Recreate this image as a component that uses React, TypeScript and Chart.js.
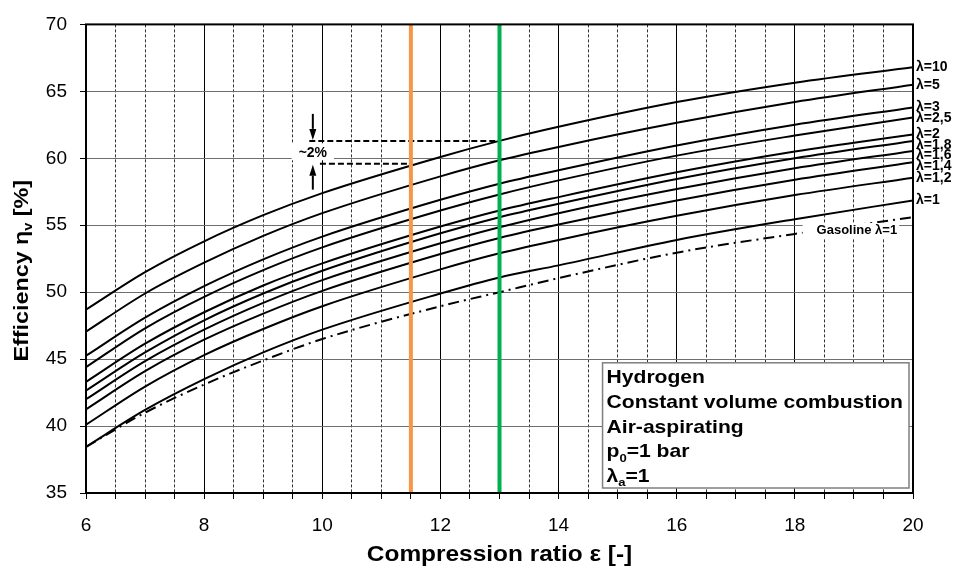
import React, { useEffect, useRef } from 'react';
import { Chart, registerables } from 'chart.js';

Chart.register(...registerables);

// ---------- data ----------
const epsilon = [6, 7, 8, 9, 10, 12, 13, 14, 16, 18, 20];

const lambda10 = [48.7, 51.5, 53.8, 55.75, 57.4, 60.1, 61.3, 62.35, 64.2, 65.65, 66.8];
const lambda5 = [47.05, 49.9, 52.2, 54.2, 55.9, 58.65, 59.85, 60.85, 62.65, 64.2, 65.5];
const lambda3 = [45.25, 48.1, 50.45, 52.45, 54.15, 56.9, 58.1, 59.1, 60.95, 62.5, 63.8];
const lambda2_5 = [44.4, 47.3, 49.65, 51.65, 53.35, 56.1, 57.3, 58.35, 60.2, 61.7, 63.05];
const lambda2 = [43.3, 46.15, 48.5, 50.5, 52.15, 54.9, 56.1, 57.1, 58.95, 60.5, 61.78];
const lambda1_8 = [42.65, 45.5, 47.9, 49.9, 51.6, 54.4, 55.6, 56.6, 58.45, 60.0, 61.3];
const lambda1_6 = [42.0, 44.85, 47.2, 49.2, 50.9, 53.65, 54.85, 55.9, 57.7, 59.25, 60.55];
const lambda1_4 = [41.25, 44.1, 46.45, 48.4, 50.1, 52.85, 54.05, 55.05, 56.85, 58.4, 59.7];
const lambda1_2 = [40.1, 42.95, 45.3, 47.25, 48.95, 51.7, 52.9, 53.9, 55.7, 57.25, 58.55];
const lambda1 = [38.45, 41.2, 43.5, 45.5, 47.2, 49.9, 51.1, 52.0, 53.9, 55.45, 56.85];
const gasolineLambda1 = [38.45, 41.0, 43.1, 44.9, 46.5, 48.95, 50.0, 51.05, 52.95, 54.35, 55.6];

const hydrogenSeries = [lambda10, lambda5, lambda3, lambda2_5, lambda2, lambda1_8, lambda1_6, lambda1_4, lambda1_2, lambda1];
const hydrogenLabels = ['λ=10', 'λ=5', 'λ=3', 'λ=2,5', 'λ=2', 'λ=1,8', 'λ=1,6', 'λ=1,4', 'λ=1,2', 'λ=1'];
const gasolineLabel = 'Gasoline λ=1';

const markerRatios = [11.5, 13];
const differenceLevels = [61.3, 59.6]; // λ=10 at ε=13 and at ε=11.5
const differenceLabel = '~2%';

const xMin = 6;
const xMax = 20;
const yMin = 35;
const yMax = 70;

type Seg = { t: string; sub?: boolean };
const xAxisTitle: Seg[] = [{ t: 'Compression ratio ε [-]' }];
const yAxisTitle: Seg[] = [{ t: 'Efficiency η' }, { t: 'v', sub: true }, { t: ' [%]' }];
const infoLines: Seg[][] = [
  [{ t: 'Hydrogen' }],
  [{ t: 'Constant volume combustion' }],
  [{ t: 'Air-aspirating' }],
  [{ t: 'p' }, { t: '0', sub: true }, { t: '=1 bar' }],
  [{ t: 'λ' }, { t: 'a', sub: true }, { t: '=1' }],
];

// ---------- styling ----------
const FONT = "'Liberation Sans', Arial, Helvetica, sans-serif";
const markerColors = ['#F79646', '#00B050'];
const STRETCH = 1.11;

function segFont(size: number, sub?: boolean) {
  return `bold ${sub ? size * 0.62 : size}px ${FONT}`;
}
function richWidth(ctx: CanvasRenderingContext2D, segs: Seg[], size: number) {
  let w = 0;
  for (const s of segs) {
    ctx.font = segFont(size, s.sub);
    w += ctx.measureText(s.t).width;
  }
  return w;
}
function drawRich(ctx: CanvasRenderingContext2D, segs: Seg[], x: number, y: number, size: number) {
  let cx = x;
  ctx.textAlign = 'left';
  ctx.textBaseline = 'middle';
  for (const s of segs) {
    ctx.font = segFont(size, s.sub);
    ctx.fillText(s.t, cx, s.sub ? y + size * 0.32 : y);
    cx += ctx.measureText(s.t).width;
  }
}
function drawStretched(
  ctx: CanvasRenderingContext2D,
  segs: Seg[],
  x: number,
  y: number,
  size: number,
  align: 'left' | 'center',
  rotate = 0
) {
  const w = richWidth(ctx, segs, size);
  ctx.save();
  ctx.translate(x, y);
  if (rotate) ctx.rotate(rotate);
  ctx.scale(STRETCH, 1);
  drawRich(ctx, segs, align === 'center' ? -w / 2 : 0, 0, size);
  ctx.restore();
}
function drawArrow(ctx: CanvasRenderingContext2D, x: number, yFrom: number, yTo: number) {
  const dir = Math.sign(yTo - yFrom);
  const head = 11;
  const hw = 3.5;
  ctx.strokeStyle = '#000';
  ctx.fillStyle = '#000';
  ctx.lineWidth = 2;
  ctx.setLineDash([]);
  ctx.beginPath();
  ctx.moveTo(x, yFrom);
  ctx.lineTo(x, yTo - dir * head);
  ctx.stroke();
  ctx.beginPath();
  ctx.moveTo(x, yTo);
  ctx.lineTo(x - hw, yTo - dir * head);
  ctx.lineTo(x + hw, yTo - dir * head);
  ctx.closePath();
  ctx.fill();
}

const overlayPlugin = {
  id: 'overlay',
  afterDatasetsDraw(chart: any) {
    const { ctx, chartArea: a } = chart;
    const xs = chart.scales.x;
    const ys = chart.scales.y;
    ctx.save();

    // ~2% annotation
    const ax = xs.getPixelForValue(9.84);
    const yU = ys.getPixelForValue(differenceLevels[0]);
    const yL = ys.getPixelForValue(differenceLevels[1]);
    const my = (yU + yL) / 2;
    ctx.font = `bold 14px ${FONT}`;
    const tw = ctx.measureText(differenceLabel).width;
    ctx.fillStyle = '#fff';
    ctx.fillRect(ax - tw / 2 - 7, my - 9, tw + 14, 17);
    ctx.fillStyle = '#000';
    ctx.textAlign = 'center';
    ctx.textBaseline = 'middle';
    ctx.fillText(differenceLabel, ax, my + 1);
    drawArrow(ctx, ax, yU - 27, yU - 1);
    drawArrow(ctx, ax, yL + 26, yL + 1);

    // gasoline label
    const gx = xs.getPixelForValue(19.05);
    const gy = ys.getPixelForValue(54.72);
    ctx.font = `bold 13px ${FONT}`;
    const gw = ctx.measureText(gasolineLabel).width;
    ctx.fillStyle = '#fff';
    ctx.fillRect(gx - gw / 2 - 14, gy - 6, gw + 16, 15);
    ctx.fillStyle = '#000';
    ctx.textAlign = 'center';
    ctx.textBaseline = 'middle';
    ctx.fillText(gasolineLabel, gx, gy + 1);

    // info box
    const size = 19;
    let maxW = 0;
    for (const line of infoLines) maxW = Math.max(maxW, richWidth(ctx, line, size) * STRETCH);
    const step = 24.8;
    const boxW = maxW + 10;
    const boxH = 15 + step * (infoLines.length - 1) + 11;
    const bx = a.right - 4 - boxW;
    const by = a.bottom - 5 - boxH;
    ctx.fillStyle = '#fff';
    ctx.fillRect(bx, by, boxW, boxH);
    ctx.strokeStyle = '#7f7f7f';
    ctx.lineWidth = 1.5;
    ctx.strokeRect(bx, by, boxW, boxH);
    ctx.fillStyle = '#000';
    infoLines.forEach((line, i) => drawStretched(ctx, line, bx + 4, by + 15 + i * step, size, 'left'));

    // right-hand labels
    ctx.font = `bold 14px ${FONT}`;
    ctx.textAlign = 'left';
    ctx.textBaseline = 'middle';
    ctx.fillStyle = '#000';
    let prev = -Infinity;
    hydrogenSeries.forEach((s, i) => {
      let py = ys.getPixelForValue(s[s.length - 1]);
      if (py < prev + 10.5) py = prev + 10.5;
      prev = py;
      ctx.fillText(hydrogenLabels[i], a.right + 3, py);
    });

    // plot frame
    ctx.strokeStyle = '#000';
    ctx.lineWidth = 2;
    ctx.strokeRect(a.left, a.top, a.right - a.left, a.bottom - a.top);
    ctx.restore();
  },
  afterDraw(chart: any) {
    const { ctx, chartArea: a } = chart;
    ctx.save();
    ctx.fillStyle = '#000';
    // x axis title
    drawStretched(ctx, xAxisTitle, (a.left + a.right) / 2, 555, 22, 'center');
    // y axis title
    drawStretched(ctx, yAxisTitle, 22, (a.top + a.bottom) / 2 + 12, 21, 'center', -Math.PI / 2);
    ctx.restore();
  },
};

export default function App() {
  const ref = useRef<HTMLCanvasElement>(null);

  useEffect(() => {
    const canvas = ref.current;
    if (!canvas) return;

    const toPoints = (arr: number[]) => epsilon.map((x, i) => ({ x, y: arr[i] }));

    const markerSets = markerRatios.map((m, i) => ({
      data: [
        { x: m, y: yMin },
        { x: m, y: yMax },
      ],
      borderColor: markerColors[i],
      borderWidth: 4,
      pointRadius: 0,
      fill: false,
    }));

    const diffSets = [
      { data: [{ x: 9.78, y: differenceLevels[0] }, { x: markerRatios[1], y: differenceLevels[0] }] },
      { data: [{ x: 9.96, y: differenceLevels[1] }, { x: markerRatios[0], y: differenceLevels[1] }] },
    ].map((d) => ({
      ...d,
      borderColor: '#000',
      borderWidth: 2,
      borderDash: [6, 3],
      pointRadius: 0,
      fill: false,
    }));

    const curveSets = hydrogenSeries.map((s, i) => ({
      label: hydrogenLabels[i],
      data: toPoints(s),
      borderColor: '#000',
      borderWidth: 2,
      pointRadius: 0,
      fill: false,
      cubicInterpolationMode: 'monotone' as const,
    }));

    const gasSet = {
      label: gasolineLabel,
      data: toPoints(gasolineLambda1),
      borderColor: '#000',
      borderWidth: 2,
      borderDash: [11, 5, 2, 5],
      pointRadius: 0,
      fill: false,
      cubicInterpolationMode: 'monotone' as const,
    };

    const chart = new Chart(canvas, {
      type: 'line',
      data: { datasets: [...markerSets, ...diffSets, ...curveSets, gasSet] as any },
      options: {
        responsive: false,
        animation: false,
        devicePixelRatio: 1,
        layout: { padding: { top: 16, right: 40, bottom: 0, left: 0 } },
        plugins: { legend: { display: false }, tooltip: { enabled: false } },
        scales: {
          x: {
            type: 'linear',
            min: xMin,
            max: xMax,
            afterFit: (scale: any) => {
              scale.height = 73;
            },
            ticks: {
              stepSize: 0.5,
              autoSkip: false,
              maxRotation: 0,
              padding: 15,
              color: '#000',
              font: { size: 19, family: FONT },
              callback: (v: any) => (Number(v) % 2 === 0 ? String(v) : ''),
            },
            grid: {
              color: (c: any) => (c.tick && c.tick.value % 2 !== 0 ? '#333' : '#000'),
              lineWidth: 1,
              tickLength: 6,
              tickColor: '#000',
            },
            border: {
              display: false,
              dash: (c: any) => (c.tick && c.tick.value % 2 !== 0 ? [3, 2] : []),
            },
            title: { display: false },
          },
          y: {
            type: 'linear',
            min: yMin,
            max: yMax,
            afterFit: (scale: any) => {
              scale.width = 86;
            },
            ticks: {
              stepSize: 5,
              padding: 13,
              color: '#000',
              font: { size: 19, family: FONT },
            },
            grid: {
              color: '#6f6f6f',
              lineWidth: 1,
              tickLength: 6,
              tickColor: '#000',
            },
            border: { display: false },
            title: { display: false },
          },
        },
      },
      plugins: [overlayPlugin],
    });

    return () => chart.destroy();
  }, []);

  return (
    <div style={{ position: 'fixed', left: 0, top: 0, width: 953, height: 566, background: '#fff' }}>
      <canvas ref={ref} width={953} height={566} style={{ display: 'block', width: 953, height: 566 }} />
    </div>
  );
}
